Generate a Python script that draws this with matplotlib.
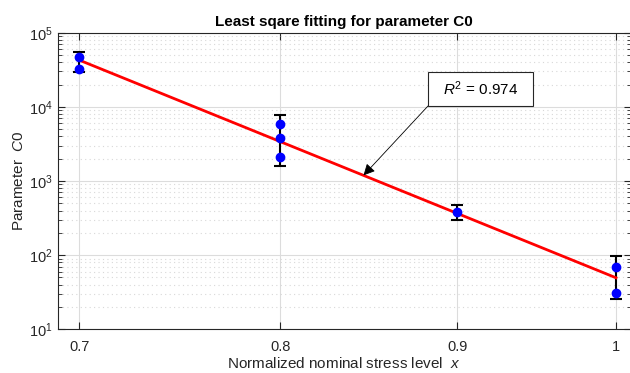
import numpy as np
import matplotlib
matplotlib.use("Agg")
import matplotlib.pyplot as plt
from matplotlib.patches import Rectangle
from matplotlib.ticker import FixedLocator, FixedFormatter, NullLocator, LogLocator

plt.rcParams['font.family'] = ['Liberation Sans', 'DejaVu Sans']
plt.rcParams['mathtext.fontset'] = 'custom'
plt.rcParams['mathtext.rm'] = 'Liberation Sans'
plt.rcParams['mathtext.it'] = 'Liberation Sans:italic'
plt.rcParams['mathtext.default'] = 'regular'

# measured C0 values at each stress level
x_pts = [0.7, 0.7, 0.8, 0.8, 0.8, 0.9, 1.0, 1.0]
c0_pts = [46400, 32700, 5890, 3780, 2130, 385, 69.5, 31.3]

# error bar ranges per stress level
x_err = [0.7, 0.8, 0.9, 1.0]
err_lo = [29100, 1610, 297, 25.4]
err_hi = [54200, 7800, 474, 98]

# power-law fit  C0 = a * x^b
fit_a = 49.5
fit_b = -18.95
r2 = 0.974

x_ticks = [0.7, 0.8, 0.9, 1.0]
x_tick_labels = ["0.7", "0.8", "0.9", "1"]

fig = plt.figure(figsize=(6.3, 3.73), dpi=100)
ax = fig.add_axes([57.7/630, 1 - 329.3/373, (631 - 57.7)/630, (329.3 - 32.7)/373])
ax.set_xscale('log')
ax.set_yscale('log')

# error bars
lo = np.array(err_lo)
hi = np.array(err_hi)
mid = np.sqrt(lo*hi)
ax.errorbar(x_err, mid, yerr=[mid - lo, hi - mid], fmt='none', ecolor='k',
            elinewidth=1.5, capsize=4, capthick=1.5, zorder=3)

# fit line
xf = np.linspace(0.7, 1.0, 200)
ax.plot(xf, fit_a*xf**fit_b, color='red', lw=2.0, zorder=4)

# data points
ax.plot(x_pts, c0_pts, 'o', color='blue', markersize=6, zorder=5)

ax.set_xlim(0.69, 1.01)
ax.set_ylim(10, 1e5)
ax.xaxis.set_major_locator(FixedLocator(x_ticks))
ax.xaxis.set_major_formatter(FixedFormatter(x_tick_labels))
ax.xaxis.set_minor_locator(NullLocator())
ax.yaxis.set_major_locator(LogLocator(base=10, numticks=10))
ax.yaxis.set_minor_locator(LogLocator(base=10, subs=np.arange(2, 10), numticks=10))

ax.grid(True, which='major', color='#dcdcdc', lw=0.8, zorder=0)
ax.grid(True, which='minor', axis='y', color='#d8d8d8', lw=0.8, ls=(0, (1, 3)), zorder=0)
ax.set_axisbelow(True)
ax.tick_params(which='both', direction='in', top=True, right=True, labelsize=10.5, colors='#262626')
ax.tick_params(which='major', length=5)
ax.tick_params(which='minor', length=3)
ax.tick_params(axis='x', pad=8)
for s in ax.spines.values():
    s.set_color('#262626')

ax.set_title("Least sqare fitting for parameter C0", fontsize=11, fontweight='bold', pad=5)
ax.set_xlabel("Normalized nominal stress level  $\\mathit{x}$", fontsize=11, color='#262626', labelpad=1)
ax.set_ylabel("Parameter  $\\mathit{C0}$", fontsize=11, color='#262626', labelpad=2)

# R^2 annotation box with arrow
bx0, by0 = (428 - 57.7)/573.3, (329.3 - 106)/296.6
bx1, by1 = (533 - 57.7)/573.3, (329.3 - 72)/296.6
ax.add_patch(Rectangle((bx0, by0), bx1 - bx0, by1 - by0, transform=ax.transAxes,
                       facecolor='white', edgecolor='#262626', lw=0.8, zorder=6))
ax.text((bx0 + bx1)/2, (by0 + by1)/2, "$\\mathit{R}^2$ = %.3f" % r2, transform=ax.transAxes,
        ha='center', va='center', fontsize=11, zorder=7)
xa = 0.8455
ax.annotate("", xy=(xa, fit_a*xa**fit_b), xytext=(bx0, by0), textcoords='axes fraction',
            arrowprops=dict(arrowstyle='-|>', color='k', lw=0.6, mutation_scale=17,
                            shrinkA=0, shrinkB=0), zorder=7)

fig.savefig("out.png", dpi=100)
